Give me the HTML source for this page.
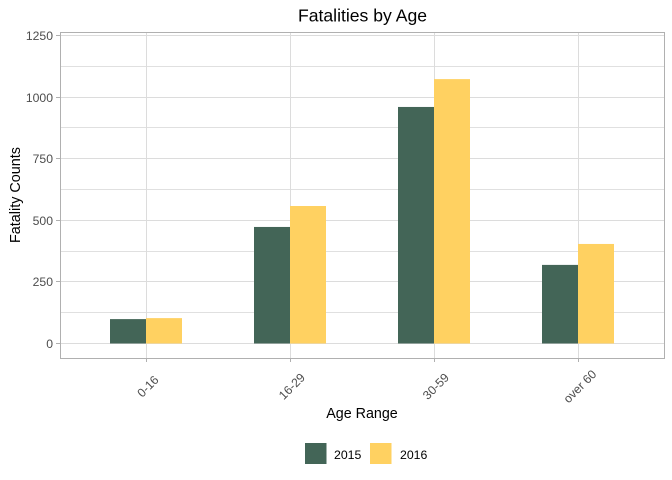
<!DOCTYPE html>
<html>
<head>
<meta charset="utf-8">
<title>Fatalities by Age</title>
<style>
html,body{margin:0;padding:0;background:#fff;}
svg{display:block;font-family:"Liberation Sans",Arial,sans-serif;}
</style>
</head>
<body>
<svg id="chart" xmlns="http://www.w3.org/2000/svg" width="672" height="480" viewBox="0 0 672 480"></svg>
<script>
const categories = ["0-16", "16-29", "30-59", "over 60"];
const seriesNames = ["2015", "2016"];
const values2015 = [99, 473, 960, 319];
const values2016 = [103, 558, 1073, 404];
const yTicks = [0, 250, 500, 750, 1000, 1250];
const yMinorTicks = [125, 375, 625, 875, 1125];

const svg = document.getElementById('chart');
const NS = 'http://www.w3.org/2000/svg';
const colors = ['#436557', '#ffd161'];
const panel = {left: 60.5, right: 664.5, top: 32.5, bottom: 358.5};

function y(v) { return Math.round(343.5 - v * 0.2464 - 0.5) + 0.5; }
function yBar(v) { return 343.5 - v * 0.2464; }
function x(i) { return 146.5 + 144 * i; }

function make(tag, attrs, text) {
  const el = document.createElementNS(NS, tag);
  for (const k in attrs) el.setAttribute(k, attrs[k]);
  if (text !== undefined) el.textContent = text;
  svg.appendChild(el);
  return el;
}

let el;

// Minor and major horizontal gridlines
yMinorTicks.forEach(function (t) {
  el = make('line', {x1: panel.left, x2: panel.right, y1: y(t), y2: y(t), stroke: '#e0e0e0', 'stroke-width': 1});
  
  
});
yTicks.forEach(function (t) {
  el = make('line', {x1: panel.left, x2: panel.right, y1: y(t), y2: y(t), stroke: '#dcdcdc', 'stroke-width': 1});
  
  
});
categories.forEach(function (c, i) {
  el = make('line', {x1: x(i), x2: x(i), y1: panel.top, y2: panel.bottom, stroke: '#dcdcdc', 'stroke-width': 1});
  
  
});

// Bars
const barWidth = 36;
[values2015, values2016].forEach(function (vals, s) {
  vals.forEach(function (v, i) {
    const left = x(i) - 0.5 + (s === 0 ? -barWidth : 0);
    el = make('rect', {x: left, y: yBar(v), width: barWidth, height: yBar(0) - yBar(v), fill: colors[s]});
    
    
  });
});

// Panel border
el = make('rect', {x: panel.left, y: panel.top, width: panel.right - panel.left, height: panel.bottom - panel.top, fill: 'none', stroke: '#b0b0b0', 'stroke-width': 1});



// Y ticks and labels
yTicks.forEach(function (t) {
  el = make('line', {x1: 56, x2: panel.left, y1: y(t), y2: y(t), stroke: '#b0b0b0', 'stroke-width': 1});
  
  
  el = make('text', {x: 53, y: y(t) + 4.5, 'text-anchor': 'end', 'font-size': 12.2, fill: '#4d4d4d'}, String(t));
  
  
});

// X ticks and labels
categories.forEach(function (c, i) {
  el = make('line', {x1: x(i), x2: x(i), y1: panel.bottom, y2: 362, stroke: '#b0b0b0', 'stroke-width': 1});
  
  
  const lx = x(i) + 1.5, ly = 390.5;
  el = make('text', {x: lx, y: ly, 'text-anchor': 'middle', 'font-size': 12.2, fill: '#4d4d4d', transform: 'rotate(-45 ' + lx + ' ' + (ly - 4) + ')'}, c);
  
  
});

// Titles
el = make('text', {x: 362.5, y: 21.5, 'text-anchor': 'middle', 'font-size': 17.6, fill: '#000'}, 'Fatalities by Age');



el = make('text', {x: 362, y: 418, 'text-anchor': 'middle', 'font-size': 14.3, fill: '#000'}, 'Age Range');



el = make('text', {x: 20, y: 195, 'text-anchor': 'middle', 'font-size': 14.4, fill: '#000', transform: 'rotate(-90 20 195)'}, 'Fatality Counts');



// Legend
const legendSwatchX = [305, 370];
const legendTextX = [334, 400];
seriesNames.forEach(function (n, s) {
  el = make('rect', {x: legendSwatchX[s], y: 443, width: 21.5, height: 21, fill: colors[s]});
  
  
  el = make('text', {x: legendTextX[s], y: 459, 'font-size': 12.3, fill: '#000'}, n);
  
  
});
</script>
</body>
</html>
